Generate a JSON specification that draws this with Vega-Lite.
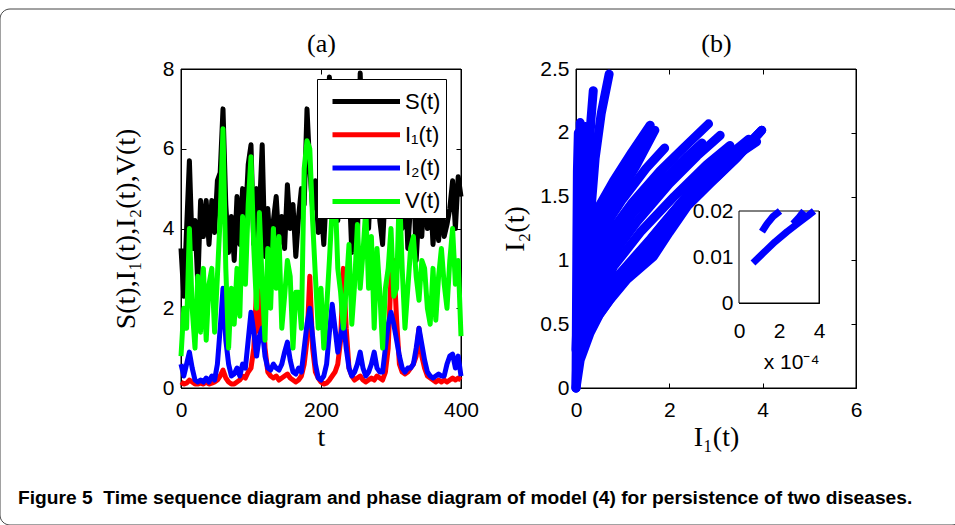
{
  "$schema": "https://vega.github.io/schema/vega-lite/v6.json",
  "width": 955,
  "height": 525,
  "autosize": {"type": "none"},
  "padding": 0,
  "background": "white",
  "config": {
    "view": {"stroke": null},
    "axis": {
      "grid": false, "domainColor": "black", "tickColor": "black", "labelColor": "black", "titleColor": "black",
      "labelFont": "Liberation Sans", "labelFontSize": 21, "tickSize": -5, "domainWidth": 1, "tickWidth": 1,
      "titleFont": "Liberation Serif", "titleFontWeight": "normal", "titleFontSize": 28, "zindex": 1,
      "labelFlush": false, "labelOverlap": false
    },
    "axisX": {"labelPadding": 16, "titlePadding": 3},
    "axisY": {"labelPadding": 12, "titlePadding": 10}
  },
  "title": {
    "text": "Figure 5\u00a0\u00a0Time sequence diagram and phase diagram of model (4) for persistence of two diseases.",
    "orient": "bottom", "anchor": "start", "frame": "group", "offset": -22, "dx": 18, "baseline": "alphabetic",
    "font": "Liberation Sans", "fontSize": 19.2, "fontWeight": "bold", "color": "black"
  },
  "layer": [
    {
      "data": {"values": [{}]},
      "mark": {"type": "rect", "filled": false, "stroke": "#444", "strokeWidth": 1, "cornerRadius": 10, "xOffset": 7, "yOffset": 9},
      "encoding": {}
    },
    {
      "data": {"values": [{}]},
      "mark": {"type": "rect", "filled": false, "stroke": "black", "strokeWidth": 1},
      "encoding": {
        "x": {"datum": 0, "type": "quantitative", "scale": {"domain": [0, 400], "range": [181, 461], "nice": false, "zero": false},
              "axis": {"orient": "top", "offset": -69, "values": [0, 200, 400], "labels": false, "title": "(a)", "titleFontSize": 26, "titlePadding": 12}},
        "x2": {"datum": 400},
        "y": {"datum": 0, "type": "quantitative", "scale": {"domain": [0, 8], "range": [388, 69], "nice": false, "zero": false},
              "axis": {"orient": "right", "offset": -494, "values": [0, 2, 4, 6, 8], "labels": false, "title": null}},
        "y2": {"datum": 8}
      }
    },
    {
      "data": {"values": [
        {"t":0,"S(t)":3.5,"I₁(t)":0.15,"I₂(t)":0.6,"V(t)":0.8},
        {"t":4,"S(t)":2.3,"I₁(t)":0.1,"I₂(t)":0.3,"V(t)":2.0},
        {"t":8,"S(t)":4.0,"I₁(t)":0.12,"I₂(t)":0.6,"V(t)":1.5},
        {"t":12,"S(t)":5.7,"I₁(t)":0.2,"I₂(t)":0.9,"V(t)":4.0},
        {"t":16,"S(t)":3.5,"I₁(t)":0.15,"I₂(t)":0.5,"V(t)":2.0},
        {"t":20,"S(t)":4.2,"I₁(t)":0.1,"I₂(t)":0.2,"V(t)":1.0},
        {"t":24,"S(t)":2.6,"I₁(t)":0.1,"I₂(t)":0.15,"V(t)":2.8},
        {"t":28,"S(t)":4.7,"I₁(t)":0.12,"I₂(t)":0.2,"V(t)":1.4},
        {"t":32,"S(t)":3.8,"I₁(t)":0.1,"I₂(t)":0.15,"V(t)":3.0},
        {"t":36,"S(t)":4.7,"I₁(t)":0.15,"I₂(t)":0.25,"V(t)":1.2},
        {"t":40,"S(t)":3.6,"I₁(t)":0.1,"I₂(t)":0.15,"V(t)":2.6},
        {"t":44,"S(t)":4.7,"I₁(t)":0.12,"I₂(t)":0.3,"V(t)":3.0},
        {"t":48,"S(t)":3.9,"I₁(t)":0.15,"I₂(t)":0.2,"V(t)":1.4},
        {"t":52,"S(t)":5.2,"I₁(t)":0.2,"I₂(t)":0.6,"V(t)":2.8},
        {"t":56,"S(t)":5.4,"I₁(t)":0.3,"I₂(t)":1.5,"V(t)":4.3},
        {"t":60,"S(t)":7.0,"I₁(t)":0.45,"I₂(t)":2.5,"V(t)":6.5},
        {"t":64,"S(t)":4.6,"I₁(t)":0.25,"I₂(t)":1.2,"V(t)":3.0},
        {"t":68,"S(t)":3.4,"I₁(t)":0.15,"I₂(t)":0.6,"V(t)":1.0},
        {"t":72,"S(t)":4.3,"I₁(t)":0.1,"I₂(t)":0.3,"V(t)":2.5},
        {"t":76,"S(t)":3.2,"I₁(t)":0.1,"I₂(t)":0.35,"V(t)":1.6},
        {"t":80,"S(t)":4.8,"I₁(t)":0.15,"I₂(t)":0.5,"V(t)":3.0},
        {"t":84,"S(t)":3.6,"I₁(t)":0.2,"I₂(t)":0.3,"V(t)":1.8},
        {"t":88,"S(t)":5.0,"I₁(t)":0.3,"I₂(t)":0.6,"V(t)":4.3},
        {"t":92,"S(t)":4.2,"I₁(t)":0.25,"I₂(t)":0.5,"V(t)":2.6},
        {"t":96,"S(t)":5.6,"I₁(t)":0.4,"I₂(t)":1.2,"V(t)":4.6},
        {"t":100,"S(t)":6.1,"I₁(t)":0.5,"I₂(t)":1.9,"V(t)":5.8},
        {"t":104,"S(t)":3.6,"I₁(t)":1.0,"I₂(t)":1.4,"V(t)":3.5},
        {"t":108,"S(t)":5.0,"I₁(t)":2.5,"I₂(t)":0.8,"V(t)":2.0},
        {"t":112,"S(t)":4.4,"I₁(t)":1.4,"I₂(t)":1.3,"V(t)":4.4},
        {"t":116,"S(t)":6.1,"I₁(t)":2.7,"I₂(t)":1.5,"V(t)":2.6},
        {"t":120,"S(t)":3.3,"I₁(t)":1.0,"I₂(t)":0.8,"V(t)":1.2},
        {"t":124,"S(t)":4.5,"I₁(t)":0.4,"I₂(t)":0.5,"V(t)":3.5},
        {"t":128,"S(t)":3.4,"I₁(t)":0.3,"I₂(t)":0.45,"V(t)":2.0},
        {"t":132,"S(t)":4.2,"I₁(t)":0.25,"I₂(t)":0.6,"V(t)":4.0},
        {"t":136,"S(t)":4.8,"I₁(t)":0.3,"I₂(t)":0.5,"V(t)":2.5},
        {"t":140,"S(t)":3.6,"I₁(t)":0.2,"I₂(t)":0.45,"V(t)":3.8},
        {"t":144,"S(t)":4.3,"I₁(t)":0.25,"I₂(t)":0.6,"V(t)":1.5},
        {"t":148,"S(t)":3.5,"I₁(t)":0.3,"I₂(t)":0.9,"V(t)":2.3},
        {"t":152,"S(t)":5.1,"I₁(t)":0.35,"I₂(t)":1.15,"V(t)":3.2},
        {"t":156,"S(t)":4.0,"I₁(t)":0.25,"I₂(t)":0.7,"V(t)":2.8},
        {"t":160,"S(t)":4.6,"I₁(t)":0.2,"I₂(t)":0.4,"V(t)":1.0},
        {"t":164,"S(t)":3.3,"I₁(t)":0.15,"I₂(t)":0.35,"V(t)":2.4},
        {"t":168,"S(t)":4.3,"I₁(t)":0.2,"I₂(t)":0.5,"V(t)":2.4},
        {"t":172,"S(t)":5.0,"I₁(t)":0.3,"I₂(t)":0.4,"V(t)":1.5},
        {"t":176,"S(t)":4.6,"I₁(t)":0.6,"I₂(t)":1.0,"V(t)":5.5},
        {"t":180,"S(t)":7.0,"I₁(t)":1.2,"I₂(t)":1.6,"V(t)":6.2},
        {"t":184,"S(t)":5.5,"I₁(t)":2.8,"I₂(t)":2.0,"V(t)":6.0},
        {"t":188,"S(t)":4.5,"I₁(t)":1.0,"I₂(t)":1.3,"V(t)":4.2},
        {"t":192,"S(t)":5.2,"I₁(t)":0.4,"I₂(t)":0.6,"V(t)":2.8},
        {"t":196,"S(t)":3.9,"I₁(t)":0.25,"I₂(t)":0.25,"V(t)":1.5},
        {"t":200,"S(t)":4.6,"I₁(t)":0.15,"I₂(t)":0.2,"V(t)":2.5},
        {"t":204,"S(t)":3.6,"I₁(t)":0.1,"I₂(t)":0.3,"V(t)":1.0},
        {"t":208,"S(t)":5.0,"I₁(t)":0.12,"I₂(t)":0.6,"V(t)":2.0},
        {"t":212,"S(t)":7.8,"I₁(t)":0.2,"I₂(t)":1.4,"V(t)":3.2},
        {"t":216,"S(t)":5.5,"I₁(t)":0.3,"I₂(t)":2.1,"V(t)":4.5},
        {"t":220,"S(t)":6.5,"I₁(t)":0.4,"I₂(t)":1.5,"V(t)":5.0},
        {"t":224,"S(t)":4.2,"I₁(t)":0.6,"I₂(t)":0.9,"V(t)":3.0},
        {"t":228,"S(t)":5.5,"I₁(t)":1.2,"I₂(t)":1.3,"V(t)":2.4},
        {"t":232,"S(t)":6.0,"I₁(t)":3.0,"I₂(t)":1.7,"V(t)":1.5},
        {"t":236,"S(t)":4.5,"I₁(t)":1.5,"I₂(t)":1.0,"V(t)":2.5},
        {"t":240,"S(t)":5.2,"I₁(t)":0.5,"I₂(t)":0.5,"V(t)":3.6},
        {"t":244,"S(t)":3.4,"I₁(t)":0.3,"I₂(t)":0.3,"V(t)":1.6},
        {"t":248,"S(t)":4.8,"I₁(t)":0.2,"I₂(t)":0.4,"V(t)":2.6},
        {"t":252,"S(t)":3.6,"I₁(t)":0.25,"I₂(t)":0.6,"V(t)":4.1},
        {"t":256,"S(t)":7.9,"I₁(t)":0.3,"I₂(t)":0.9,"V(t)":2.5},
        {"t":260,"S(t)":5.5,"I₁(t)":0.2,"I₂(t)":0.5,"V(t)":3.4},
        {"t":264,"S(t)":6.2,"I₁(t)":0.15,"I₂(t)":0.3,"V(t)":4.5},
        {"t":268,"S(t)":4.0,"I₁(t)":0.2,"I₂(t)":0.4,"V(t)":2.5},
        {"t":272,"S(t)":5.5,"I₁(t)":0.25,"I₂(t)":0.6,"V(t)":3.8},
        {"t":276,"S(t)":4.5,"I₁(t)":0.2,"I₂(t)":0.9,"V(t)":1.5},
        {"t":280,"S(t)":6.0,"I₁(t)":0.3,"I₂(t)":0.5,"V(t)":3.5},
        {"t":284,"S(t)":4.2,"I₁(t)":0.25,"I₂(t)":0.4,"V(t)":2.4},
        {"t":288,"S(t)":3.6,"I₁(t)":0.2,"I₂(t)":0.4,"V(t)":1.0},
        {"t":292,"S(t)":5.0,"I₁(t)":0.4,"I₂(t)":1.0,"V(t)":2.5},
        {"t":296,"S(t)":6.5,"I₁(t)":1.0,"I₂(t)":1.6,"V(t)":3.0},
        {"t":300,"S(t)":5.2,"I₁(t)":2.8,"I₂(t)":1.9,"V(t)":4.0},
        {"t":304,"S(t)":6.8,"I₁(t)":3.2,"I₂(t)":1.6,"V(t)":2.3},
        {"t":308,"S(t)":4.4,"I₁(t)":1.7,"I₂(t)":1.2,"V(t)":2.5},
        {"t":312,"S(t)":5.8,"I₁(t)":0.6,"I₂(t)":0.8,"V(t)":5.0},
        {"t":316,"S(t)":4.0,"I₁(t)":0.4,"I₂(t)":0.5,"V(t)":3.0},
        {"t":320,"S(t)":5.5,"I₁(t)":0.35,"I₂(t)":0.4,"V(t)":1.5},
        {"t":324,"S(t)":3.5,"I₁(t)":0.4,"I₂(t)":0.5,"V(t)":2.5},
        {"t":328,"S(t)":4.6,"I₁(t)":0.5,"I₂(t)":0.5,"V(t)":3.5},
        {"t":332,"S(t)":5.5,"I₁(t)":0.6,"I₂(t)":0.6,"V(t)":3.8},
        {"t":336,"S(t)":3.2,"I₁(t)":0.8,"I₂(t)":1.0,"V(t)":2.8},
        {"t":340,"S(t)":4.5,"I₁(t)":1.5,"I₂(t)":1.5,"V(t)":2.2},
        {"t":344,"S(t)":3.8,"I₁(t)":0.8,"I₂(t)":1.1,"V(t)":3.2},
        {"t":348,"S(t)":5.2,"I₁(t)":0.5,"I₂(t)":0.7,"V(t)":3.0},
        {"t":352,"S(t)":4.0,"I₁(t)":0.3,"I₂(t)":0.4,"V(t)":2.0},
        {"t":356,"S(t)":5.0,"I₁(t)":0.25,"I₂(t)":0.3,"V(t)":1.6},
        {"t":360,"S(t)":3.6,"I₁(t)":0.2,"I₂(t)":0.25,"V(t)":3.0},
        {"t":364,"S(t)":4.5,"I₁(t)":0.15,"I₂(t)":0.3,"V(t)":1.7},
        {"t":368,"S(t)":3.7,"I₁(t)":0.2,"I₂(t)":0.35,"V(t)":2.8},
        {"t":372,"S(t)":4.6,"I₁(t)":0.15,"I₂(t)":0.3,"V(t)":3.5},
        {"t":376,"S(t)":3.8,"I₁(t)":0.2,"I₂(t)":0.3,"V(t)":2.6},
        {"t":380,"S(t)":4.1,"I₁(t)":0.15,"I₂(t)":0.6,"V(t)":2.0},
        {"t":384,"S(t)":4.5,"I₁(t)":0.2,"I₂(t)":0.8,"V(t)":3.2},
        {"t":388,"S(t)":5.2,"I₁(t)":0.25,"I₂(t)":0.85,"V(t)":4.0},
        {"t":392,"S(t)":4.0,"I₁(t)":0.2,"I₂(t)":0.5,"V(t)":2.6},
        {"t":396,"S(t)":5.3,"I₁(t)":0.25,"I₂(t)":0.8,"V(t)":3.2},
        {"t":400,"S(t)":4.8,"I₁(t)":0.2,"I₂(t)":0.3,"V(t)":1.3}
      ]},
      "transform": [{"fold": ["S(t)", "I₁(t)", "I₂(t)", "V(t)"], "as": ["series", "value"]}],
      "mark": {"type": "line", "strokeWidth": 5, "strokeJoin": "round"},
      "encoding": {
        "x": {"field": "t", "type": "quantitative", "scale": {"domain": [0, 400], "range": [181, 461], "nice": false, "zero": false},
              "axis": {"orient": "bottom", "offset": -137, "values": [0, 200, 400], "title": "t"}},
        "y": {"field": "value", "type": "quantitative", "scale": {"domain": [0, 8], "range": [388, 69], "nice": false, "zero": false},
              "axis": {"orient": "left", "offset": -181, "values": [0, 2, 4, 6, 8], "title": "S(t),I₁(t),I₂(t),V(t)", "titlePadding": 22}},
        "color": {"field": "series", "type": "nominal",
                  "scale": {"domain": ["S(t)", "I₁(t)", "I₂(t)", "V(t)"], "range": ["#000000", "#ff0000", "#0000ff", "#00ff00"]},
                  "legend": {"title": null, "orient": "none", "legendX": 317, "legendY": 79, "symbolType": "M-3.5,0H1", "symbolSize": 900,
                             "symbolStrokeWidth": 5, "symbolOffset": 45.5, "labelFont": "Liberation Sans", "labelFontSize": 22, "labelColor": "black",
                             "padding": 5, "rowPadding": 4.3, "strokeColor": "black", "fillColor": "white", "labelOffset": 2.5}}
      }
    },
    {
      "data": {"values": [{}]},
      "mark": {"type": "rect", "filled": false, "stroke": "black", "strokeWidth": 1},
      "encoding": {
        "x": {"datum": 0, "type": "quantitative", "scale": {"domain": [0, 6], "range": [576, 856], "nice": false, "zero": false},
              "axis": {"orient": "top", "offset": -69, "values": [0, 2, 4, 6], "labels": false, "title": "(b)", "titleFontSize": 26, "titlePadding": 12}},
        "x2": {"datum": 6},
        "y": {"datum": 0, "type": "quantitative", "scale": {"domain": [0, 2.5], "range": [388, 69], "nice": false, "zero": false},
              "axis": {"orient": "right", "offset": -99, "values": [0, 0.5, 1, 1.5, 2, 2.5], "labels": false, "title": null}},
        "y2": {"datum": 2.5}
      }
    },
    {
      "data": {"values": [
        {"k":1,"o":1,"x":0,"y":0},{"k":1,"o":2,"x":0.01,"y":0.6},{"k":1,"o":3,"x":0.02,"y":1.2},{"k":1,"o":4,"x":0.03,"y":1.7},{"k":1,"o":5,"x":0.05,"y":2.0},
        {"k":2,"o":1,"x":0,"y":0},{"k":2,"o":2,"x":0.04,"y":0.5},{"k":2,"o":3,"x":0.06,"y":1.0},{"k":2,"o":4,"x":0.08,"y":1.5},{"k":2,"o":5,"x":0.09,"y":2.08},
        {"k":3,"o":1,"x":0.02,"y":0.2},{"k":3,"o":2,"x":0.1,"y":0.7},{"k":3,"o":3,"x":0.15,"y":1.2},{"k":3,"o":4,"x":0.18,"y":1.7},{"k":3,"o":5,"x":0.2,"y":2.05},
        {"k":4,"o":1,"x":0.05,"y":0.3},{"k":4,"o":2,"x":0.14,"y":0.8},{"k":4,"o":3,"x":0.21,"y":1.3},{"k":4,"o":4,"x":0.27,"y":1.8},{"k":4,"o":5,"x":0.32,"y":2.1},{"k":4,"o":6,"x":0.37,"y":2.33},
        {"k":5,"o":1,"x":0.08,"y":0.35},{"k":5,"o":2,"x":0.2,"y":0.85},{"k":5,"o":3,"x":0.3,"y":1.3},{"k":5,"o":4,"x":0.41,"y":1.8},{"k":5,"o":5,"x":0.54,"y":2.15},{"k":5,"o":6,"x":0.71,"y":2.46},
        {"k":6,"o":1,"x":0.1,"y":0.4},{"k":6,"o":2,"x":0.22,"y":0.9},{"k":6,"o":3,"x":0.3,"y":1.35},{"k":6,"o":4,"x":0.36,"y":1.7},{"k":6,"o":5,"x":0.4,"y":1.95},
        {"k":7,"o":1,"x":0.03,"y":0.3},{"k":7,"o":2,"x":0.1,"y":0.9},{"k":7,"o":3,"x":0.12,"y":1.4},{"k":7,"o":4,"x":0.14,"y":1.9},
        {"k":8,"o":1,"x":0.1,"y":0.35},{"k":8,"o":2,"x":0.25,"y":0.85},{"k":8,"o":3,"x":0.41,"y":1.37},{"k":8,"o":4,"x":0.8,"y":1.62},{"k":8,"o":5,"x":1.2,"y":1.85},{"k":8,"o":6,"x":1.59,"y":2.06},
        {"k":9,"o":1,"x":0.12,"y":0.33},{"k":9,"o":2,"x":0.3,"y":0.8},{"k":9,"o":3,"x":0.5,"y":1.25},{"k":9,"o":4,"x":0.9,"y":1.5},{"k":9,"o":5,"x":1.3,"y":1.75},{"k":9,"o":6,"x":1.69,"y":2.02},
        {"k":10,"o":1,"x":0.15,"y":0.33},{"k":10,"o":2,"x":0.35,"y":0.8},{"k":10,"o":3,"x":0.45,"y":1.3},{"k":10,"o":4,"x":0.85,"y":1.56},{"k":10,"o":5,"x":1.25,"y":1.8},{"k":10,"o":6,"x":1.5,"y":1.95},
        {"k":11,"o":1,"x":0.15,"y":0.3},{"k":11,"o":2,"x":0.35,"y":0.7},{"k":11,"o":3,"x":0.6,"y":1.15},{"k":11,"o":4,"x":1.2,"y":1.45},{"k":11,"o":5,"x":1.8,"y":1.7},{"k":11,"o":6,"x":2.3,"y":1.88},{"k":11,"o":7,"x":2.84,"y":2.07},
        {"k":12,"o":1,"x":0.2,"y":0.35},{"k":12,"o":2,"x":0.4,"y":0.7},{"k":12,"o":3,"x":0.65,"y":1.05},{"k":12,"o":4,"x":1.2,"y":1.36},{"k":12,"o":5,"x":1.8,"y":1.6},{"k":12,"o":6,"x":2.4,"y":1.82},{"k":12,"o":7,"x":2.7,"y":1.92},
        {"k":13,"o":1,"x":0.25,"y":0.4},{"k":13,"o":2,"x":0.45,"y":0.7},{"k":13,"o":3,"x":0.7,"y":1.0},{"k":13,"o":4,"x":1.3,"y":1.3},{"k":13,"o":5,"x":2.0,"y":1.6},{"k":13,"o":6,"x":2.6,"y":1.82},{"k":13,"o":7,"x":3.09,"y":1.98},
        {"k":14,"o":1,"x":0.3,"y":0.45},{"k":14,"o":2,"x":0.55,"y":0.72},{"k":14,"o":3,"x":0.8,"y":0.95},{"k":14,"o":4,"x":1.4,"y":1.23},{"k":14,"o":5,"x":2.1,"y":1.5},{"k":14,"o":6,"x":2.8,"y":1.75},{"k":14,"o":7,"x":3.3,"y":1.9},
        {"k":15,"o":1,"x":0.35,"y":0.48},{"k":15,"o":2,"x":0.6,"y":0.68},{"k":15,"o":3,"x":0.9,"y":0.88},{"k":15,"o":4,"x":1.6,"y":1.17},{"k":15,"o":5,"x":2.4,"y":1.52},{"k":15,"o":6,"x":3.1,"y":1.74},{"k":15,"o":7,"x":3.87,"y":1.93},
        {"k":16,"o":1,"x":0.4,"y":0.52},{"k":16,"o":2,"x":0.8,"y":0.76},{"k":16,"o":3,"x":1.2,"y":0.98},{"k":16,"o":4,"x":1.9,"y":1.3},{"k":16,"o":5,"x":2.6,"y":1.6},{"k":16,"o":6,"x":3.3,"y":1.83},{"k":16,"o":7,"x":3.7,"y":1.95},
        {"k":17,"o":1,"x":0.45,"y":0.55},{"k":17,"o":2,"x":0.8,"y":0.73},{"k":17,"o":3,"x":1.5,"y":1.04},{"k":17,"o":4,"x":2.3,"y":1.43},{"k":17,"o":5,"x":3.0,"y":1.65},{"k":17,"o":6,"x":3.5,"y":1.83},{"k":17,"o":7,"x":3.98,"y":2.02},
        {"k":18,"o":1,"x":0,"y":0},{"k":18,"o":2,"x":0.09,"y":0.22},{"k":18,"o":3,"x":0.3,"y":0.43},{"k":18,"o":4,"x":0.51,"y":0.58},{"k":18,"o":5,"x":0.73,"y":0.69},{"k":18,"o":6,"x":1.09,"y":0.85},{"k":18,"o":7,"x":1.66,"y":1.03},{"k":18,"o":8,"x":2.0,"y":1.22},{"k":18,"o":9,"x":2.4,"y":1.43},{"k":18,"o":10,"x":2.87,"y":1.6},{"k":18,"o":11,"x":3.44,"y":1.8},{"k":18,"o":12,"x":3.98,"y":2.02},
        {"k":19,"o":1,"x":0.55,"y":0.62},{"k":19,"o":2,"x":1.0,"y":0.84},{"k":19,"o":3,"x":1.6,"y":1.08},{"k":19,"o":4,"x":2.2,"y":1.36},{"k":19,"o":5,"x":2.9,"y":1.63},{"k":19,"o":6,"x":3.5,"y":1.84},{"k":19,"o":7,"x":3.9,"y":1.99},
        {"k":20,"o":1,"x":0.3,"y":0.6},{"k":20,"o":2,"x":0.4,"y":0.9},{"k":20,"o":3,"x":0.5,"y":1.15},{"k":20,"o":4,"x":0.6,"y":1.35},{"k":20,"o":5,"x":0.7,"y":1.5},
        {"k":21,"o":1,"x":0.55,"y":1.15},{"k":21,"o":2,"x":0.75,"y":1.35},{"k":21,"o":3,"x":1.0,"y":1.6},
        {"k":22,"o":1,"x":0.5,"y":0.95},{"k":22,"o":2,"x":0.9,"y":1.25},{"k":22,"o":3,"x":1.4,"y":1.52},{"k":22,"o":4,"x":1.9,"y":1.73},{"k":22,"o":5,"x":2.1,"y":1.8},
        {"k":23,"o":1,"x":0.0,"y":0.3},{"k":23,"o":2,"x":0.05,"y":0.8},{"k":23,"o":3,"x":0.1,"y":1.2},{"k":23,"o":4,"x":0.12,"y":1.6},
        {"k":24,"o":1,"x":0.9,"y":0.8},{"k":24,"o":2,"x":1.3,"y":0.93},{"k":24,"o":3,"x":1.62,"y":1.03},
        {"k":25,"o":1,"x":0.5,"y":1.2},{"k":25,"o":2,"x":1.0,"y":1.48},{"k":25,"o":3,"x":1.5,"y":1.72},{"k":25,"o":4,"x":1.9,"y":1.88}
      ]},
      "mark": {"type": "line", "strokeWidth": 9, "strokeCap": "round", "strokeJoin": "round", "color": "#0000ff"},
      "encoding": {
        "x": {"field": "x", "type": "quantitative", "scale": {"domain": [0, 6], "range": [576, 856], "nice": false, "zero": false},
              "axis": {"orient": "bottom", "offset": -137, "values": [0, 2, 4, 6], "title": "I₁(t)"}},
        "y": {"field": "y", "type": "quantitative", "scale": {"domain": [0, 2.5], "range": [388, 69], "nice": false, "zero": false},
              "axis": {"orient": "left", "offset": -576, "values": [0, 0.5, 1, 1.5, 2, 2.5], "format": "~g", "title": "I₂(t)"}},
        "detail": {"field": "k", "type": "nominal"},
        "order": {"field": "o", "type": "quantitative"}
      }
    },
    {
      "data": {"values": [{}]},
      "mark": {"type": "rect", "fill": "white", "stroke": "black", "strokeWidth": 1},
      "encoding": {
        "x": {"datum": 0, "type": "quantitative", "scale": {"domain": [0, 4], "range": [739, 819], "nice": false, "zero": false},
              "axis": {"orient": "bottom", "offset": -222, "values": [0, 2, 4], "labelFontSize": 21, "labelPadding": 20, "tickSize": -3,
                       "title": "x 10⁻⁴", "titleFont": "Liberation Sans", "titleFontSize": 21, "titleAnchor": "end", "titlePadding": 10}},
        "x2": {"datum": 4},
        "y": {"datum": 0, "type": "quantitative", "scale": {"domain": [0, 0.02], "range": [303, 211], "nice": false, "zero": false},
              "axis": {"orient": "left", "offset": -739, "values": [0, 0.01, 0.02], "format": "~g", "labelFontSize": 21, "tickSize": -3, "labelPadding": 9, "title": null}},
        "y2": {"datum": 0.02}
      }
    },
    {
      "data": {"values": [
        {"k":1,"o":1,"x":0.7,"y":0.0087},{"k":1,"o":2,"x":1.2,"y":0.0108},{"k":1,"o":3,"x":1.8,"y":0.0133},{"k":1,"o":4,"x":2.4,"y":0.0155},{"k":1,"o":5,"x":3.0,"y":0.0175},{"k":1,"o":6,"x":3.4,"y":0.0188},{"k":1,"o":7,"x":3.75,"y":0.02},
        {"k":2,"o":1,"x":1.15,"y":0.0155},{"k":2,"o":2,"x":1.4,"y":0.0172},{"k":2,"o":3,"x":1.7,"y":0.0188},{"k":2,"o":4,"x":2.05,"y":0.02},
        {"k":3,"o":1,"x":2.7,"y":0.0172},{"k":3,"o":2,"x":3.0,"y":0.0186},{"k":3,"o":3,"x":3.25,"y":0.02}
      ]},
      "mark": {"type": "line", "strokeWidth": 7, "strokeCap": "butt", "strokeJoin": "round", "color": "#0000ff"},
      "encoding": {
        "x": {"field": "x", "type": "quantitative", "scale": {"domain": [0, 4], "range": [739, 819], "nice": false, "zero": false},
              "axis": {"orient": "top", "offset": -211, "values": [0, 2, 4], "labels": false, "tickSize": -3, "title": null}},
        "y": {"field": "y", "type": "quantitative", "scale": {"domain": [0, 0.02], "range": [303, 211], "nice": false, "zero": false},
              "axis": {"orient": "right", "offset": -136, "values": [0, 0.01, 0.02], "labels": false, "tickSize": -3, "title": null}},
        "detail": {"field": "k", "type": "nominal"},
        "order": {"field": "o", "type": "quantitative"}
      }
    }
  ],
  "resolve": {"scale": {"x": "independent", "y": "independent"}, "axis": {"x": "independent", "y": "independent"}}
}
